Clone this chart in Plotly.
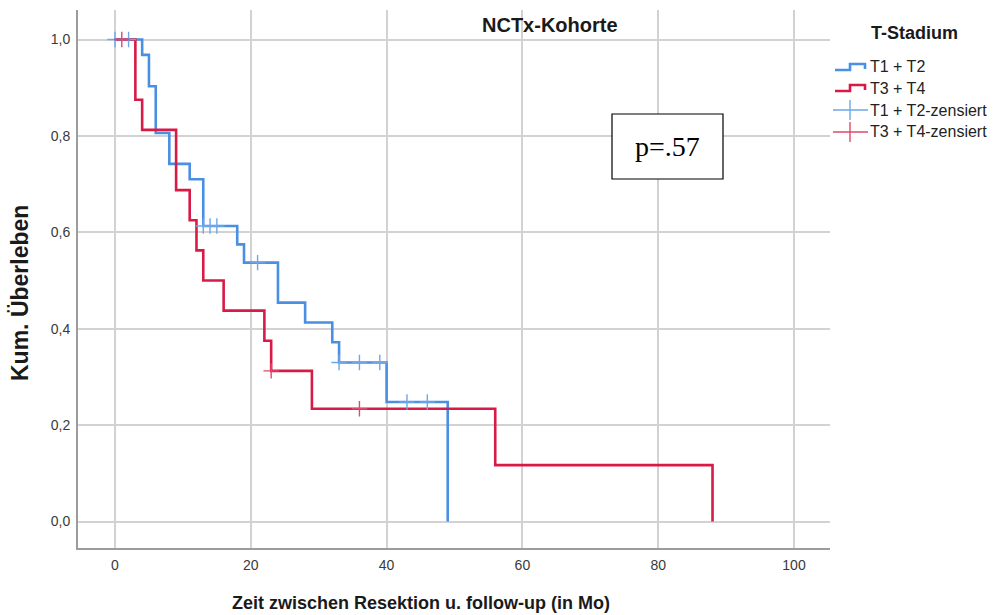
import plotly.graph_objects as go

# Kaplan-Meier step data (time in months, cumulative survival)
t12_times = [0, 4, 5, 6, 8, 11, 13, 18, 19, 24, 28, 32, 33, 40, 49]
t12_surv = [1.0, 0.968, 0.903, 0.806, 0.742, 0.710, 0.613, 0.575, 0.537,
            0.454, 0.413, 0.372, 0.330, 0.248, 0.0]
t34_times = [0, 3, 4, 9, 11, 12, 13, 16, 22, 23, 29, 56, 88]
t34_surv = [1.0, 0.875, 0.8125, 0.6875, 0.625, 0.5625, 0.5, 0.4375, 0.375,
            0.3125, 0.234, 0.117, 0.0]

# Censored observations
t12_cens_t = [0, 2, 13, 14, 15, 21, 33, 36, 39, 43, 46]
t12_cens_s = [1.0, 1.0, 0.613, 0.613, 0.613, 0.537, 0.330, 0.330, 0.330, 0.248, 0.248]
t34_cens_t = [1, 23, 36]
t34_cens_s = [1.0, 0.3125, 0.234]

x_ticks = [0, 20, 40, 60, 80, 100]
y_ticks = [0.0, 0.2, 0.4, 0.6, 0.8, 1.0]

BLUE = "#4a90e2"
RED = "#d81b46"
BLUE_C = "#6fa6e8"
RED_C = "#e0486c"

W, H = 996, 615
L, R, T, B = 78, 830, 10, 548


def px(x):
    return (x - L) / (R - L)


def py(y):
    return (B - y) / (B - T)


fig = go.Figure()
fig.add_trace(go.Scatter(x=t12_times, y=t12_surv, mode="lines", line_shape="hv",
                         line=dict(color=BLUE, width=2.6), showlegend=False))
fig.add_trace(go.Scatter(x=t34_times, y=t34_surv, mode="lines", line_shape="hv",
                         line=dict(color=RED, width=2.6), showlegend=False))
fig.add_trace(go.Scatter(x=t12_cens_t, y=t12_cens_s, mode="markers",
                         marker=dict(symbol="cross-thin", size=11,
                                     line=dict(color=BLUE_C, width=1.4)),
                         showlegend=False))
fig.add_trace(go.Scatter(x=t34_cens_t, y=t34_cens_s, mode="markers",
                         marker=dict(symbol="cross-thin", size=11,
                                     line=dict(color=RED_C, width=1.4)),
                         showlegend=False))

# x range chosen so 0 -> 115 px and 100 -> 794 px
xs = (794 - 115) / 100.0
x0 = -(115 - L) / xs
x1 = (R - 115) / xs
ys = (521.5 - 39.5)
y0 = -(B - 521.5) / ys
y1 = (521.5 - T) / ys

fig.update_layout(
    width=W, height=H,
    margin=dict(l=L, r=W - R, t=T, b=H - B),
    plot_bgcolor="white", paper_bgcolor="white",
    separators=",.",
    xaxis=dict(range=[x0, x1], tickvals=x_ticks, showgrid=True, gridcolor="#d2d2d2",
               gridwidth=1.5, zeroline=False, showline=True, linecolor="#9c9c9c",
               linewidth=2, ticks="", ticklabelstandoff=3,
               tickfont=dict(family="Liberation Sans, Arial", size=14, color="#3a3a3a")),
    yaxis=dict(range=[y0, y1], tickvals=y_ticks, tickformat=".1f", showgrid=True,
               gridcolor="#d2d2d2", gridwidth=1.5, zeroline=False, showline=True,
               linecolor="#9c9c9c", linewidth=2, ticks="", ticklabelstandoff=3,
               tickfont=dict(family="Liberation Sans, Arial", size=14, color="#3a3a3a")),
)


def note(text, x, y, size, family="Liberation Sans, Arial", color="#1a1a1a",
         xanchor="center", angle=0):
    return dict(text=text, x=px(x), y=py(y), xref="paper", yref="paper",
                xanchor=xanchor, yanchor="middle", showarrow=False, textangle=angle,
                font=dict(family=family, size=size, color=color))


annotations = [
    note("<b>NCTx-Kohorte</b>", 550, 25, 20),
    note("<b>Zeit zwischen Resektion u. follow-up (in Mo)</b>", 421, 603, 18),
    note("<b>Kum. Überleben</b>", 20, 293, 23, angle=-90),
    note("p=.57", 667, 146, 28, family="Liberation Serif, Times New Roman", color="black"),
    note("<b>T-Stadium</b>", 914, 33, 18),
]

legend_items = [("T1 + T2", 67, "step", BLUE), ("T3 + T4", 88, "step", RED),
                ("T1 + T2-zensiert", 110, "cross", BLUE_C), ("T3 + T4-zensiert", 132, "cross", RED_C)]

shapes = [
    dict(type="rect", xref="paper", yref="paper", x0=px(612), x1=px(723), y0=py(179), y1=py(114),
         line=dict(color="black", width=1.2), fillcolor="white", layer="above"),
]

for label, yc, kind, col in legend_items:
    annotations.append(note(label, 868, yc, 16, color="#222", xanchor="left"))
    if kind == "step":
        pts = [(835, yc + 3), (850, yc + 3), (850, yc - 3), (865, yc - 3), (865, yc + 2)]
        path = "M " + " L ".join(f"{px(a)},{py(b)}" for a, b in pts)
        shapes.append(dict(type="path", xref="paper", yref="paper", path=path,
                           line=dict(color=col, width=2.6)))
    else:
        shapes.append(dict(type="line", xref="paper", yref="paper", x0=px(833), x1=px(868),
                           y0=py(yc), y1=py(yc), line=dict(color=col, width=1.4)))
        shapes.append(dict(type="line", xref="paper", yref="paper", x0=px(850), x1=px(850),
                           y0=py(yc - 10), y1=py(yc + 10), line=dict(color=col, width=1.4)))

fig.update_layout(annotations=annotations, shapes=shapes)
fig.write_html("out.html")
